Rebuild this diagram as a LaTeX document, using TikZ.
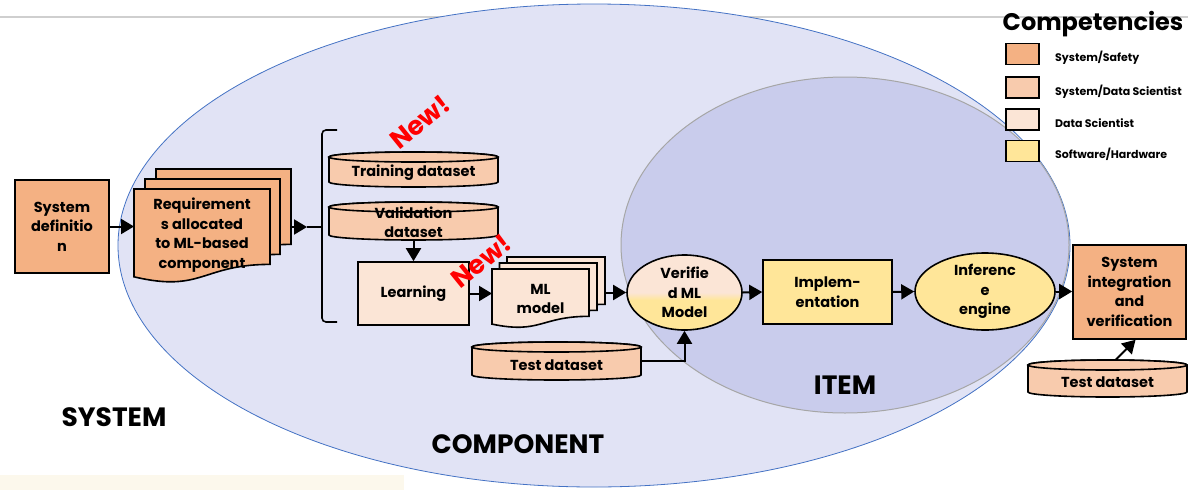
\documentclass[tikz,border=0pt]{standalone}
\usepackage{fontspec}
\setmainfont{Poppins}
\usetikzlibrary{arrows.meta,shapes.geometric}
\definecolor{sysC}{HTML}{F4B183}
\definecolor{sdC}{HTML}{F8CBAD}
\definecolor{dsC}{HTML}{FBE5D6}
\definecolor{swC}{HTML}{FFE699}
\definecolor{compC}{HTML}{E1E3F5}
\definecolor{itemC}{HTML}{C9CCEC}
\definecolor{compB}{HTML}{4472C4}
\definecolor{itemB}{HTML}{A6A6A6}
\definecolor{creamC}{HTML}{FCF8EC}
\definecolor{topL}{HTML}{CFCFCF}
\pgfdeclareverticalshading{vmshade}{100bp}{color(0bp)=(swC); color(45bp)=(swC); color(50bp)=(dsC); color(100bp)=(dsC)}
\newcommand\boxfont{\fontsize{14.5}{19.5}\selectfont\bfseries}
\newcommand\legfont{\fontsize{11}{13}\selectfont\bfseries}
\tikzset{
  box/.style={draw=black, line width=1.6pt, align=center, font=\boxfont, inner sep=2pt},
  ell/.style={ellipse, draw=black, line width=1.6pt, align=center, font=\boxfont, inner sep=0pt},
  txt/.style={align=center, font=\boxfont, inner sep=0pt},
  arr/.style={line width=2pt, -{Triangle[length=13pt,width=15pt]}},
  frame/.style={draw=none, inner sep=0pt, outer sep=0pt},
  bigl/.style={font=\fontsize{26.5}{29}\selectfont\bfseries, inner sep=0pt},
  newl/.style={text=red, font=\fontsize{26}{28}\selectfont\bfseries, rotate=39, inner sep=0pt},
  legbox/.style={draw=black, line width=1.4pt, minimum width=33pt, minimum height=21pt, inner sep=0pt},
  leglab/.style={anchor=west, font=\legfont, inner sep=0pt},
  edge/.style={draw=black, line width=1.6pt}
}
% document shape: x1, y1, w, h
\newcommand\docpath[4]{(#1,#2) -- ({#1+#3},#2) -- ({#1+#3},{#2+0.802*#4}) .. controls ({#1+0.5*#3},{#2+0.802*#4}) and ({#1+0.5*#3},{#2+1.107*#4}) .. (#1,{#2+0.934*#4}) -- cycle}
% cylinder: x1, y1, x2, y2, fill
\newcommand\cylshape[5]{%
  \path[edge, fill=#5] (#1,{#2+5}) -- (#1,{#4-5}) arc[start angle=180, end angle=0, x radius={(#3-#1)/2}, y radius=5] -- (#3,{#2+5}) arc[start angle=0, end angle=-180, x radius={(#3-#1)/2}, y radius=5] -- cycle;
  \path[edge, fill=#5] ({(#1+#3)/2},{#2+5}) ellipse[x radius={(#3-#1)/2}, y radius=5];
}
\begin{document}
\begin{tikzpicture}[x=1pt,y=-1pt]
\useasboundingbox (0,0) rectangle (1188,490);
% background
\fill[creamC] (0,475) rectangle (404,490);
\draw[topL, line width=2pt] (0,17) -- (1188,17);
% component & item ellipses
\node[ellipse, draw=compB, line width=0.8pt, fill=compC, minimum width=952pt, minimum height=483pt, inner sep=0pt] (comp) at (594,245.5) {};
\node[ellipse, draw=itemB, line width=1pt, fill=itemC, minimum width=448pt, minimum height=336pt, inner sep=0pt] (item) at (845,245) {};
\node[bigl] (lsys) at (114,417) {SYSTEM};
\node[bigl] (lcomp) at (518,444) {COMPONENT};
\node[bigl] (litem) at (845,385) {ITEM};

% system definition
\node[box, fill=sysC, minimum width=94pt, minimum height=93pt] (sysdef) at (62,226.5) {System\\definitio\\n};

% requirements stack
\draw[edge, fill=sysC] \docpath{156}{169}{135}{94};
\draw[edge, fill=sysC] \docpath{145}{179}{135}{94};
\draw[edge, fill=sysC] \docpath{134}{189}{136}{94};
\node[frame, minimum width=157pt, minimum height=114pt] (reqstack) at (212.5,226) {};
\node[txt] (req) at (202,235) {Requirement\\s allocated\\to ML-based\\component};

% brace
\coordinate (bnib) at (307,227);
\draw[line width=1.6pt, rounded corners=4pt] (337,130) -- (322,130) -- (322,322) -- (337,322);
\draw[line width=1.6pt] (bnib) -- (322,227);

% datasets
\cylshape{329}{152}{498}{187}{sdC}
\node[frame, minimum width=169pt, minimum height=35pt] (train) at (413.5,169.5) {};
\node[txt] (traint) at (413.5,173) {Training dataset};
\cylshape{329}{202}{498}{240}{sdC}
\node[frame, minimum width=169pt, minimum height=38pt] (val) at (413.5,221) {};
\node[txt] (valt) at (413.5,222) {Validation\\dataset};

% learning
\node[box, fill=dsC, minimum width=111pt, minimum height=63pt] (learn) at (413.5,293.5) {Learning};

% ML model stack
\draw[edge, fill=dsC] \docpath{507}{257}{98}{59};
\draw[edge, fill=dsC] \docpath{499.5}{263}{97.5}{59};
\draw[edge, fill=dsC] \docpath{492}{269}{97}{59};
\node[frame, minimum width=113pt, minimum height=71pt] (mlstack) at (548.5,292.5) {};
\node[txt] (ml) at (540.5,299) {ML\\model};

% test dataset (middle)
\cylshape{472}{342}{641}{380}{sdC}
\node[frame, minimum width=169pt, minimum height=38pt] (test1) at (556.5,361) {};
\node[txt] (test1t) at (556.5,365) {Test dataset};

% verified ML model
\node[ell, shading=vmshade, minimum width=115pt, minimum height=75pt] (ver) at (684.5,292.5) {Verifie\\d ML\\Model};

% implementation
\node[box, fill=swC, minimum width=129pt, minimum height=64pt] (impl) at (827.5,292) {Implem-\\entation};

% inference engine
\node[ell, fill=swC, minimum width=140pt, minimum height=77pt] (inf) at (985,291.5) {Inferenc\\e\\engine};

% system integration
\node[box, fill=sysC, minimum width=113pt, minimum height=94pt] (sysint) at (1129.5,292) {System\\integration\\and\\verification};

% test dataset (right)
\cylshape{1028}{360}{1187}{397}{sdC}
\node[frame, minimum width=159pt, minimum height=37pt] (test2) at (1107.5,378.5) {};
\node[txt] (test2t) at (1107.5,382) {Test dataset};

% arrows
\draw[arr] (sysdef.east) -- (sysdef.east -| reqstack.west);
\draw[arr] (reqstack.east |- bnib) -- (bnib);
\draw[arr] (val.south) -- (learn.north);
\draw[arr] (learn.east) -- (learn.east -| mlstack.west);
\draw[arr] (mlstack.east |- ver.west) -- (ver.west);
\draw[arr] (test1.east) -| (ver.south);
\draw[arr] (ver.east) -- (impl.west);
\draw[arr] (impl.east) -- (inf.west);
\draw[arr] (inf.east) -- (inf.east -| sysint.west);
\draw[arr] ([xshift=8pt]test2.north) -- ([xshift=6pt]sysint.south);

% New! labels
\node[newl] (new1) at (420,122) {New!};
\node[newl] (new2) at (481,261) {New!};

% legend
\node[font=\fontsize{24}{26}\selectfont\bfseries, inner sep=0pt] (legt) at (1093,24) {Competencies};
\node[legbox, fill=sysC] (lg1) at (1022.5,54) {};
\node[leglab] (lg1t) at (1055,58) {System/Safety};
\node[legbox, fill=sdC] (lg2) at (1022.5,87.5) {};
\node[leglab] (lg2t) at (1055,92) {System/Data Scientist};
\node[legbox, fill=dsC] (lg3) at (1022.5,119.5) {};
\node[leglab] (lg3t) at (1055,123) {Data Scientist};
\node[legbox, fill=swC] (lg4) at (1022.5,151) {};
\node[leglab] (lg4t) at (1055,154) {Software/Hardware};
\end{tikzpicture}
\end{document}
